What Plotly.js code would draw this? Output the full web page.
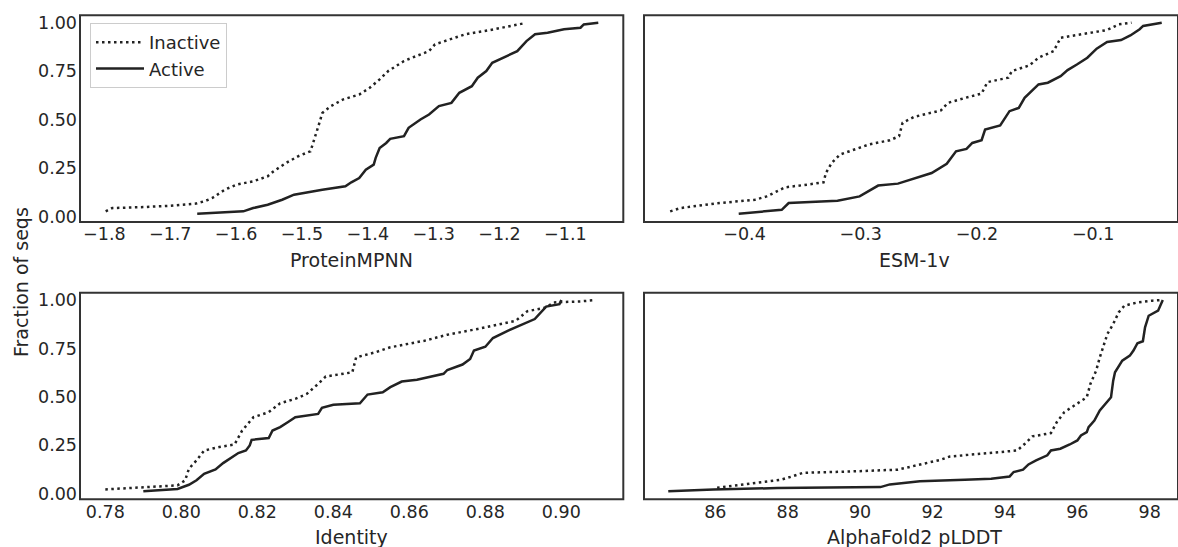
<!DOCTYPE html>
<html>
<head>
<meta charset="utf-8">
<script src="https://cdn.plot.ly/plotly-3.0.1.min.js"></script>
<style>html,body{margin:0;padding:0;background:#fff;}#chart{width:1178px;height:547px;}</style>
</head>
<body>
<div id="chart"></div>
<script>
// ---------- data ----------
const seriesNames = ["Inactive", "Active"];

const mpnnInactiveX = [-1.798,-1.788,-1.74,-1.70,-1.661,-1.648,-1.636,-1.617,-1.599,-1.574,-1.552,-1.543,-1.524,-1.506,-1.487,-1.481,-1.475,-1.469,-1.456,-1.438,-1.413,-1.397,-1.382,-1.369,-1.345,-1.326,-1.307,-1.298,-1.283,-1.252,-1.214,-1.187,-1.165];
const mpnnInactiveY = [0.026,0.043,0.048,0.055,0.066,0.078,0.095,0.138,0.164,0.181,0.207,0.233,0.276,0.310,0.336,0.397,0.466,0.534,0.569,0.603,0.629,0.664,0.707,0.750,0.802,0.828,0.853,0.888,0.905,0.940,0.962,0.979,0.995];
const mpnnActiveX = [-1.659,-1.589,-1.574,-1.552,-1.530,-1.512,-1.469,-1.434,-1.425,-1.413,-1.403,-1.391,-1.388,-1.382,-1.372,-1.366,-1.345,-1.338,-1.320,-1.307,-1.292,-1.273,-1.261,-1.242,-1.233,-1.220,-1.211,-1.189,-1.173,-1.159,-1.146,-1.127,-1.102,-1.077,-1.072,-1.050];
const mpnnActiveY = [0.014,0.026,0.043,0.060,0.086,0.112,0.138,0.155,0.176,0.198,0.241,0.267,0.302,0.353,0.379,0.400,0.414,0.457,0.500,0.526,0.569,0.586,0.638,0.672,0.716,0.750,0.793,0.828,0.853,0.905,0.940,0.948,0.966,0.974,0.991,1.0];

const esmInactiveX = [-0.464,-0.455,-0.426,-0.391,-0.381,-0.372,-0.365,-0.346,-0.332,-0.330,-0.325,-0.318,-0.307,-0.293,-0.275,-0.267,-0.264,-0.254,-0.231,-0.225,-0.210,-0.196,-0.191,-0.173,-0.170,-0.155,-0.147,-0.134,-0.128,-0.110,-0.088,-0.078,-0.067];
const esmInactiveY = [0.026,0.043,0.066,0.086,0.103,0.129,0.150,0.164,0.176,0.224,0.276,0.319,0.341,0.371,0.393,0.414,0.483,0.514,0.547,0.586,0.612,0.634,0.693,0.716,0.750,0.779,0.819,0.853,0.922,0.940,0.962,0.991,1.0];
const esmActiveX = [-0.405,-0.368,-0.362,-0.320,-0.301,-0.294,-0.285,-0.268,-0.252,-0.239,-0.226,-0.218,-0.209,-0.204,-0.196,-0.193,-0.180,-0.172,-0.164,-0.159,-0.147,-0.139,-0.128,-0.122,-0.114,-0.105,-0.097,-0.088,-0.076,-0.068,-0.060,-0.057,-0.041];
const esmActiveY = [0.014,0.034,0.069,0.081,0.103,0.129,0.159,0.169,0.198,0.224,0.272,0.336,0.348,0.379,0.393,0.448,0.469,0.543,0.560,0.612,0.681,0.690,0.724,0.755,0.784,0.819,0.866,0.900,0.910,0.934,0.966,0.983,1.0];

const identInactiveX = [0.780,0.790,0.799,0.801,0.802,0.804,0.806,0.810,0.814,0.816,0.819,0.823,0.826,0.830,0.833,0.836,0.838,0.845,0.846,0.851,0.855,0.864,0.870,0.878,0.888,0.891,0.896,0.898,0.905,0.909];
const identInactiveY = [0.022,0.034,0.043,0.069,0.129,0.172,0.223,0.241,0.254,0.326,0.395,0.421,0.467,0.490,0.515,0.567,0.605,0.627,0.704,0.730,0.756,0.790,0.821,0.851,0.893,0.942,0.962,0.988,0.993,1.0];
const identActiveX = [0.790,0.799,0.802,0.804,0.806,0.809,0.811,0.815,0.817,0.818,0.8185,0.823,0.824,0.826,0.828,0.830,0.836,0.837,0.840,0.847,0.849,0.853,0.855,0.858,0.862,0.865,0.869,0.870,0.874,0.876,0.877,0.880,0.882,0.886,0.891,0.893,0.896,0.8995,0.900];
const identActiveY = [0.012,0.024,0.046,0.069,0.103,0.125,0.158,0.210,0.223,0.249,0.278,0.287,0.326,0.344,0.369,0.395,0.412,0.443,0.459,0.467,0.512,0.524,0.550,0.579,0.588,0.601,0.619,0.639,0.667,0.696,0.739,0.759,0.804,0.842,0.885,0.902,0.966,0.979,1.0];

const plddtInactiveX = [86.05,86.88,87.81,88.12,88.43,89.78,91.03,91.34,91.85,92.22,92.48,93.41,94.34,94.55,94.76,95.27,95.43,95.64,96.00,96.26,96.36,96.52,96.62,96.73,96.83,96.99,97.14,97.30,97.66,98.07,98.33];
const plddtInactiveY = [0.031,0.052,0.072,0.089,0.108,0.115,0.124,0.137,0.158,0.175,0.192,0.206,0.223,0.258,0.296,0.313,0.369,0.421,0.464,0.498,0.567,0.636,0.704,0.765,0.825,0.876,0.936,0.971,0.988,0.997,1.0];
const plddtActiveX = [84.70,85.95,87.71,90.56,90.82,91.65,92.89,93.62,94.13,94.24,94.50,94.65,94.86,95.17,95.27,95.53,95.79,96.00,96.10,96.26,96.31,96.47,96.62,96.83,96.93,96.99,97.04,97.24,97.45,97.55,97.66,97.81,97.87,97.97,98.23,98.36];
const plddtActiveY = [0.012,0.022,0.029,0.034,0.048,0.064,0.072,0.077,0.089,0.112,0.124,0.151,0.172,0.198,0.223,0.232,0.254,0.275,0.301,0.318,0.344,0.378,0.430,0.473,0.498,0.584,0.627,0.687,0.713,0.739,0.777,0.787,0.859,0.919,0.945,1.0];

const yTickVals = [0, 0.25, 0.5, 0.75, 1.0];
const yTickText = ["0.00", "0.25", "0.50", "0.75", "1.00"];
const mpnnTickVals = [-1.8,-1.7,-1.6,-1.5,-1.4,-1.3,-1.2,-1.1];
const mpnnTickText = ["\u22121.8","\u22121.7","\u22121.6","\u22121.5","\u22121.4","\u22121.3","\u22121.2","\u22121.1"];
const esmTickVals = [-0.4,-0.3,-0.2,-0.1];
const esmTickText = ["\u22120.4","\u22120.3","\u22120.2","\u22120.1"];
const identTickVals = [0.78,0.80,0.82,0.84,0.86,0.88,0.90];
const identTickText = ["0.78","0.80","0.82","0.84","0.86","0.88","0.90"];
const plddtTickVals = [86,88,90,92,94,96,98];
const plddtTickText = ["86","88","90","92","94","96","98"];
const axisTitles = ["ProteinMPNN", "ESM-1v", "Identity", "AlphaFold2 pLDDT"];
const yTitle = "Fraction of seqs";

// ---------- styling ----------
const W = 1178, H = 547;
const FONT = "DejaVu Sans";
const TXT = "#262626";
const LINE = "#222222";
const px = v => v / W;
const py = v => 1 - v / H;

function tr(x, y, name, dotted, xa, ya, show) {
  return {
    x: x, y: y, type: "scatter", mode: "lines", name: name,
    xaxis: xa, yaxis: ya, showlegend: show, legendgroup: name,
    line: {color: LINE, width: 2.5, dash: dotted ? "2.5px,3.5px" : "solid"},
    hoverinfo: "skip"
  };
}

const data = [
  tr(mpnnInactiveX, mpnnInactiveY, seriesNames[0], true, "x", "y", true),
  tr(mpnnActiveX, mpnnActiveY, seriesNames[1], false, "x", "y", true),
  tr(esmInactiveX, esmInactiveY, seriesNames[0], true, "x2", "y2", false),
  tr(esmActiveX, esmActiveY, seriesNames[1], false, "x2", "y2", false),
  tr(identInactiveX, identInactiveY, seriesNames[0], true, "x3", "y3", false),
  tr(identActiveX, identActiveY, seriesNames[1], false, "x3", "y3", false),
  tr(plddtInactiveX, plddtInactiveY, seriesNames[0], true, "x4", "y4", false),
  tr(plddtActiveX, plddtActiveY, seriesNames[1], false, "x4", "y4", false)
];

function xax(domain, range, vals, text, posPx) {
  return {
    domain: domain, range: range, anchor: "free", position: py(posPx),
    tickvals: vals, ticktext: text, ticks: "", showgrid: false, zeroline: false,
    showline: false,
    tickfont: {family: FONT, size: 17.5, color: TXT}, fixedrange: true
  };
}
function yax(domain, anchor, showLabels) {
  return {
    domain: domain, range: [-0.029, 1.038], anchor: anchor,
    tickvals: yTickVals, ticktext: yTickText, showticklabels: showLabels,
    ticks: "", showgrid: false, zeroline: false,
    showline: false,
    ticklabelstandoff: 2,
    tickfont: {family: FONT, size: 17.5, color: TXT}, fixedrange: true
  };
}

const leftDom = [px(80), px(623.3)];
const rightDom = [px(644), 1];
const topDom = [py(222), py(15.3)];
const botDom = [py(499.3), py(292.7)];

const ann = (text, x, y, rot) => ({
  text: text, x: x, y: y, xref: "paper", yref: "paper",
  xanchor: "center", yanchor: "middle", showarrow: false, textangle: rot || 0,
  font: {family: FONT, size: 19, color: TXT}
});

const frame = (xa, ya) => ({
  type: "rect", xref: xa + " domain", yref: ya + " domain",
  x0: 0, x1: 1, y0: 0, y1: 1, layer: "above",
  line: {color: "#333", width: 2}, fillcolor: "rgba(0,0,0,0)"
});

const layout = {
  width: W, height: H,
  margin: {l: 0, r: 0, t: 0, b: 0},
  paper_bgcolor: "#fff", plot_bgcolor: "#fff",
  xaxis: xax(leftDom, [-1.837, -1.012], mpnnTickVals, mpnnTickText, 221.5),
  yaxis: yax(topDom, "x", true),
  xaxis2: xax(rightDom, [-0.4865, -0.027], esmTickVals, esmTickText, 221.5),
  yaxis2: yax(topDom, "x2", false),
  xaxis3: xax(leftDom, [0.77334, 0.9163], identTickVals, identTickText, 499),
  yaxis3: yax(botDom, "x3", true),
  xaxis4: xax(rightDom, [84.03, 98.78], plddtTickVals, plddtTickText, 499),
  yaxis4: yax(botDom, "x4", false),
  showlegend: true,
  legend: {
    x: px(90), y: py(23), xanchor: "left", yanchor: "top",
    bgcolor: "#fff", bordercolor: "#cccccc", borderwidth: 1,
    font: {family: FONT, size: 18, color: TXT},
    traceorder: "normal", itemwidth: 48
  },
  shapes: [frame("x", "y"), frame("x2", "y2"), frame("x3", "y3"), frame("x4", "y4")],
  annotations: [
    ann(axisTitles[0], px(351.7), py(260)),
    ann(axisTitles[1], px(914), py(260)),
    ann(axisTitles[2], px(351.7), py(537)),
    ann(axisTitles[3], px(914), py(537)),
    ann(yTitle, px(21), py(282), -90)
  ]
};

Plotly.newPlot("chart", data, layout, {displayModeBar: false, staticPlot: true});
</script>
</body>
</html>
